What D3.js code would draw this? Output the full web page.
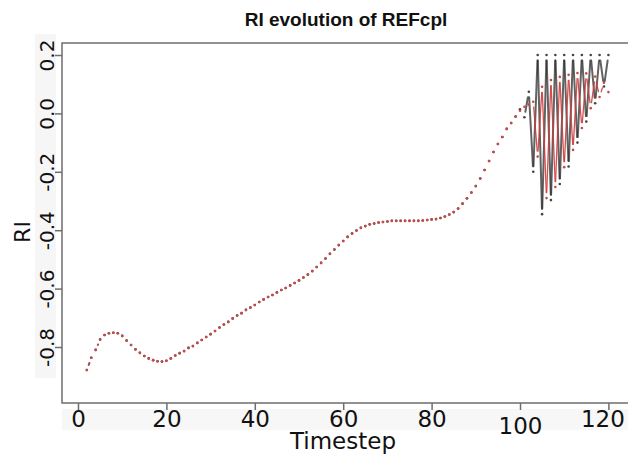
<!DOCTYPE html>
<html>
<head>
<meta charset="utf-8">
<script src="https://cdn.jsdelivr.net/npm/d3@7"></script>
<style>
  body { margin: 0; background: #fff; }
</style>
</head>
<body>
<div id="chart"></div>
<script>
// RI values, timestep 2 .. 99 (both runs agree here)
const firstStep = 2;
const baseRI = [
  -0.879, -0.837, -0.810, -0.774, -0.759, -0.753, -0.751, -0.753, -0.762, -0.778,
  -0.793, -0.808, -0.820, -0.831, -0.839, -0.845, -0.849, -0.850, -0.847, -0.839,
  -0.829, -0.821, -0.814, -0.803, -0.797, -0.786, -0.776, -0.766, -0.756, -0.745,
  -0.733, -0.723, -0.714, -0.702, -0.692, -0.684, -0.673, -0.665, -0.656, -0.646,
  -0.637, -0.629, -0.622, -0.613, -0.605, -0.598, -0.589, -0.581, -0.572, -0.562,
  -0.552, -0.540, -0.526, -0.512, -0.497, -0.481, -0.466, -0.451, -0.437, -0.423,
  -0.411, -0.401, -0.392, -0.386, -0.380, -0.377, -0.374, -0.372, -0.370, -0.368,
  -0.368, -0.368, -0.368, -0.368, -0.368, -0.368, -0.367, -0.365, -0.363, -0.362,
  -0.358, -0.353, -0.346, -0.338, -0.326, -0.309, -0.291, -0.271, -0.249, -0.223,
  -0.194, -0.163, -0.132, -0.105, -0.081, -0.053, -0.033, -0.011
];
// timestep 100 .. 120, where the two runs split
const blackTail = [
  0.014, -0.013, 0.074, -0.200, 0.200, -0.345, 0.200, -0.297, 0.200, -0.242,
  0.200, -0.182, 0.200, -0.100, 0.200, -0.028, 0.200, 0.035, 0.200, 0.092, 0.200
];
const redTail = [
  0.009, 0.023, 0.030, 0.040, -0.148, 0.091, -0.290, 0.114, -0.252, 0.125,
  -0.184, 0.132, -0.125, 0.138, -0.050, 0.137, 0.018, 0.126, 0.056, 0.105, 0.073
];
const xTicks = [0, 20, 40, 60, 80, 100, 120];
const yTicks = [-0.8, -0.6, -0.4, -0.2, 0.0, 0.2];

const blackSeries = baseRI.concat(blackTail).map((v, i) => ({ t: firstStep + i, v: v }));
const redSeries = baseRI.concat(redTail).map((v, i) => ({ t: firstStep + i, v: v }));

const width = 628;
const height = 455;
const box = { left: 62, top: 43, right: 645, bottom: 403 };

const svg = d3.select('#chart')
    .append('svg')
    .attr('width', width)
    .attr('height', height);

const x = d3.scaleLinear().domain([0, 120]).range([78, 608.4]);
const y = d3.scaleLinear().domain([-0.8, 0.2]).range([347, 55]);

// light bands behind the tick labels
svg.append('rect').attr('x', 35).attr('y', 34).attr('width', 21).attr('height', 344).attr('fill', '#f6f6f6');
svg.append('rect').attr('x', 62).attr('y', 409).attr('width', 566).attr('height', 21).attr('fill', '#f7f7f7');

// R style type="b": segments stop short of each point
function drawSeries(data, lineColor, lineWidth, dotColor) {
    const gap = 5.5;
    const segs = [];
    for (let i = 1; i < data.length; i++) {
        const x0 = x(data[i - 1].t), y0 = y(data[i - 1].v);
        const x1 = x(data[i].t), y1 = y(data[i].v);
        const len = Math.hypot(x1 - x0, y1 - y0);
        if (len <= 2 * gap) continue;
        const ux = (x1 - x0) / len, uy = (y1 - y0) / len;
        segs.push([x0 + ux * gap, y0 + uy * gap, x1 - ux * gap, y1 - uy * gap]);
    }
    const g = svg.append('g');
    g.selectAll('line')
        .data(segs)
        .join('line')
            .attr('x1', d => d[0]).attr('y1', d => d[1])
            .attr('x2', d => d[2]).attr('y2', d => d[3])
            .attr('stroke', lineColor)
            .attr('stroke-width', lineWidth)
            .attr('stroke-linecap', 'round');
    g.selectAll('circle')
        .data(data)
        .join('circle')
            .attr('cx', d => x(d.t))
            .attr('cy', d => y(d.v))
            .attr('r', 1.3)
            .attr('fill', dotColor);
}

drawSeries(blackSeries, 'rgba(45,45,45,0.75)', 2, '#444');
drawSeries(redSeries, 'rgba(210,60,60,0.9)', 1.3, '#c94848');

// plot frame
svg.append('path')
    .attr('d', `M${box.right},${box.top}H${box.left}V${box.bottom}H${box.right}`)
    .attr('fill', 'none')
    .attr('stroke', '#6e6e6e')
    .attr('stroke-width', 1.5);

// axes
const xAxis = svg.append('g')
    .attr('transform', `translate(0,${box.bottom})`)
    .call(d3.axisBottom(x).tickValues(xTicks).tickSize(7).tickPadding(1).tickFormat(d3.format('d')));
xAxis.select('.domain').remove();
xAxis.selectAll('line').attr('stroke', '#6e6e6e').attr('stroke-width', 1.5);
xAxis.selectAll('text')
    .attr('font-family', 'DejaVu Sans')
    .attr('font-size', 23)
    .attr('fill', '#111')
    .attr('x', d => d === 120 ? -6 : 0)
    .attr('dy', d => d === 100 ? '1.0em' : '0.7em');

const yAxis = svg.append('g')
    .attr('transform', `translate(${box.left},0)`)
    .call(d3.axisLeft(y).tickValues(yTicks).tickSize(7).tickPadding(10).tickFormat(d => d.toFixed(1)));
yAxis.select('.domain').remove();
yAxis.selectAll('line').attr('stroke', '#6e6e6e').attr('stroke-width', 1.5);
yAxis.selectAll('text')
    .attr('font-family', 'DejaVu Sans')
    .attr('font-size', 20)
    .attr('fill', '#111')
    .attr('text-anchor', 'middle')
    .attr('dy', 0)
    .attr('x', 0)
    .attr('transform', 'translate(-8,0) rotate(-90)');

// titles
svg.append('text')
    .attr('x', 346).attr('y', 26)
    .attr('text-anchor', 'middle')
    .attr('font-family', 'Liberation Sans')
    .attr('font-weight', 'bold')
    .attr('font-size', 19)
    .attr('fill', '#111')
    .text('RI evolution of REFcpl');

svg.append('text')
    .attr('x', 343).attr('y', 449)
    .attr('text-anchor', 'middle')
    .attr('font-family', 'DejaVu Sans')
    .attr('font-size', 23)
    .attr('fill', '#111')
    .text('Timestep');

svg.append('text')
    .attr('transform', 'translate(30,232) rotate(-90)')
    .attr('text-anchor', 'middle')
    .attr('font-family', 'DejaVu Sans')
    .attr('font-size', 22)
    .attr('fill', '#111')
    .text('RI');
</script>
</body>
</html>
